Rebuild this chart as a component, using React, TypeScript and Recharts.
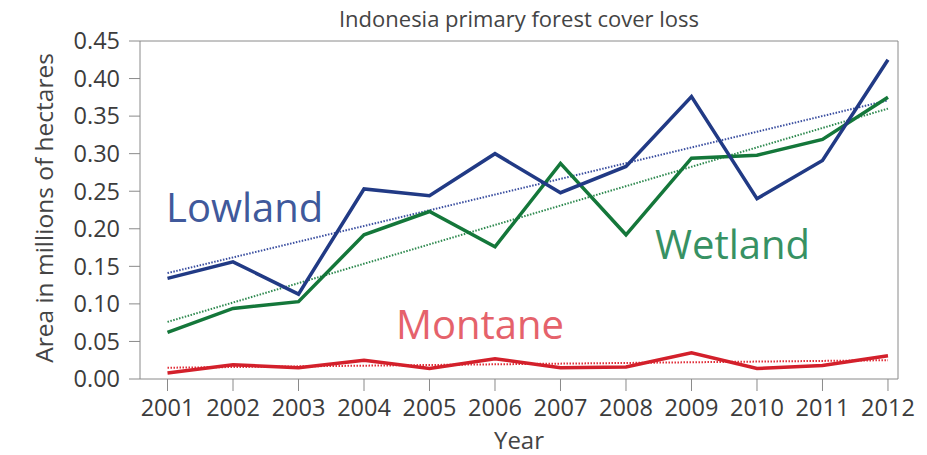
import React from "react";
import { Line, LineChart, ReferenceLine, XAxis, YAxis } from "recharts";

const years = [2001, 2002, 2003, 2004, 2005, 2006, 2007, 2008, 2009, 2010, 2011, 2012];
const lowland = [0.134, 0.156, 0.113, 0.253, 0.244, 0.3, 0.248, 0.283, 0.376, 0.24, 0.291, 0.425];
const wetland = [0.062, 0.094, 0.103, 0.192, 0.223, 0.176, 0.287, 0.192, 0.294, 0.298, 0.319, 0.375];
const montane = [0.008, 0.019, 0.015, 0.025, 0.014, 0.027, 0.015, 0.016, 0.035, 0.014, 0.018, 0.031];

// dotted trend lines, read at both ends
const trendYears = [2001, 2012];
const lowlandTrend = [0.141, 0.371];
const wetlandTrend = [0.076, 0.36];
const montaneTrend = [0.015, 0.025];

const yTicks = [0, 0.05, 0.1, 0.15, 0.2, 0.25, 0.3, 0.35, 0.4, 0.45];

const data = years.map((y, i) => ({
  year: y,
  lowland: lowland[i],
  wetland: wetland[i],
  montane: montane[i],
}));
const trend = (vals: number[]) => trendYears.map((y, i) => ({ year: y, v: vals[i] }));

const FONT = "'Open Sans', sans-serif";
const AXIS = "#8a8a8a";
const TEXT = "#3c3c3c";

export default function App() {
  return (
    <div style={{ position: "absolute", left: 0, top: 0, width: 927, height: 455, background: "#fff", fontFamily: FONT }}>
      <LineChart width={927} height={455} data={data} margin={{ top: 41, right: 29, bottom: 0, left: 0 }}>
        <XAxis
          dataKey="year"
          type="number"
          domain={[2000.58, 2012.153]}
          ticks={years}
          allowDataOverflow
          height={76}
          tickSize={12}
          tickMargin={8}
          stroke={AXIS}
          tick={{ fill: TEXT, fontSize: 23.5, fontFamily: FONT }}
        />
        <YAxis
          type="number"
          domain={[0, 0.45]}
          ticks={yTicks}
          width={140}
          tickSize={11}
          tickMargin={9}
          stroke={AXIS}
          tickFormatter={(v: number) => v.toFixed(2)}
          tick={{ fill: TEXT, fontSize: 23.5, fontFamily: FONT }}
        />
        <ReferenceLine y={0.45} stroke={AXIS} strokeWidth={1} />
        <ReferenceLine x={2012.153} stroke={AXIS} strokeWidth={1} />
        <Line data={trend(lowlandTrend)} dataKey="v" stroke="#3b4fa0" strokeWidth={2} strokeDasharray="1.5 1.5" dot={false} isAnimationActive={false} />
        <Line data={trend(wetlandTrend)} dataKey="v" stroke="#2f8a50" strokeWidth={2} strokeDasharray="1.5 1.5" dot={false} isAnimationActive={false} />
        <Line data={trend(montaneTrend)} dataKey="v" stroke="#e0303a" strokeWidth={2} strokeDasharray="1.5 1.5" dot={false} isAnimationActive={false} />
        <Line dataKey="montane" stroke="#d3202b" strokeWidth={3.5} dot={false} isAnimationActive={false} />
        <Line dataKey="wetland" stroke="#14773a" strokeWidth={3.5} dot={false} isAnimationActive={false} />
        <Line dataKey="lowland" stroke="#213a85" strokeWidth={3.5} dot={false} isAnimationActive={false} />
      </LineChart>
      <svg width={927} height={455} style={{ position: "absolute", left: 0, top: 0, pointerEvents: "none" }}>
        <text x={519} y={26.5} textAnchor="middle" fontSize={22} fill="#444" fontFamily={FONT}>
          Indonesia primary forest cover loss
        </text>
        <text x={53} y={208} textAnchor="middle" fontSize={24.5} fill="#444" fontFamily={FONT} transform="rotate(-90, 53, 208)">
          Area in millions of hectares
        </text>
        <text x={519} y={449} textAnchor="middle" fontSize={24} fill="#444" fontFamily={FONT}>
          Year
        </text>
        <text x={166} y={221.5} fontSize={40} fill="#40599b" fontFamily={FONT}>Lowland</text>
        <text x={655} y={258.5} fontSize={40} fill="#379163" fontFamily={FONT}>Wetland</text>
        <text x={396} y={338.5} fontSize={40} fill="#e5626b" fontFamily={FONT}>Montane</text>
      </svg>
    </div>
  );
}
